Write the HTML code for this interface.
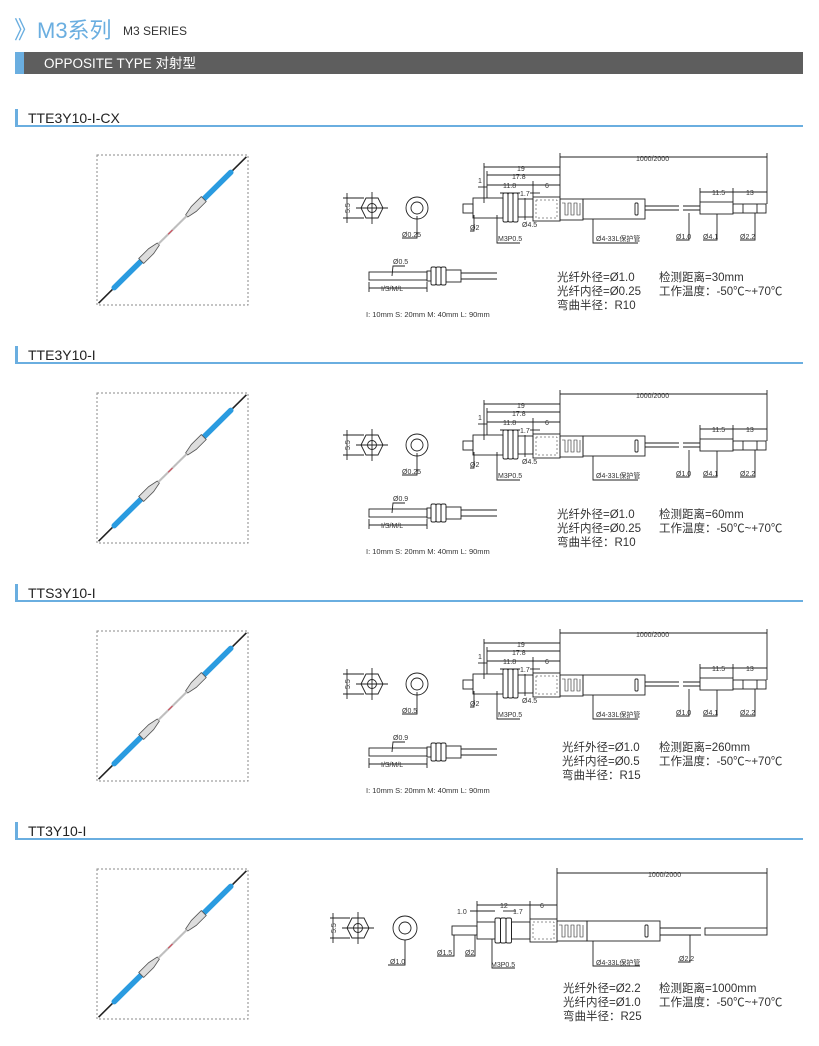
<!DOCTYPE html>
<html><head><meta charset="utf-8"><style>
html,body{margin:0;padding:0;background:#fff}
svg{display:block}
text{font-family:"Liberation Sans","Noto Sans CJK SC",sans-serif}
.d{font-size:7px;fill:#333}
.s{font-size:11.5px;fill:#333}
</style></head><body>
<svg width="819" height="1046" viewBox="0 0 819 1046" xmlns="http://www.w3.org/2000/svg">
<defs>
<g id="photo">
 <line x1="-104" y1="0" x2="104" y2="0" stroke="#222" stroke-width="1.6"/>
 <line x1="-82" y1="0" x2="-42" y2="0" stroke="#2a9be0" stroke-width="5.5" stroke-linecap="round"/>
 <line x1="42" y1="0" x2="82" y2="0" stroke="#2a9be0" stroke-width="5.5" stroke-linecap="round"/>
 <polygon points="-44,-3.5 -30,-3.5 -20,-1.5 -20,1.5 -30,3.5 -44,3.5" fill="#ddd" stroke="#555" stroke-width="0.8"/>
 <polygon points="44,-3.5 30,-3.5 20,-1.5 20,1.5 30,3.5 44,3.5" fill="#ddd" stroke="#555" stroke-width="0.8"/>
 <line x1="-20" y1="0" x2="20" y2="0" stroke="#ccc" stroke-width="1.4"/>
 <line x1="-6" y1="0" x2="0" y2="0" stroke="#e05060" stroke-width="1"/>
</g>
<g id="drw" fill="none" stroke="#222" stroke-width="0.9">
 <polygon points="361,208 366,198 378,198 383,208 378,218 366,218"/>
 <circle cx="372" cy="208" r="4.5"/>
 <line x1="372" y1="192" x2="372" y2="224"/><line x1="356" y1="208" x2="388" y2="208"/>
 <line x1="343" y1="198" x2="364" y2="198"/><line x1="343" y1="218" x2="364" y2="218"/>
 <line x1="347" y1="193" x2="347" y2="223"/>
 <circle cx="417" cy="208" r="11"/><circle cx="417" cy="208" r="6"/>
 <polyline points="417,216 417,238 402,238"/>
 <rect x="463" y="204" width="10" height="9"/>
 <rect x="473" y="198" width="30" height="20"/>
 <rect x="503" y="193" width="5" height="29" rx="1.5"/><rect x="508" y="193" width="5" height="29" rx="1.5"/><rect x="513" y="193" width="5" height="29" rx="1.5"/>
 <rect x="518" y="199" width="15" height="18"/>
 <rect x="533" y="197" width="27" height="24"/>
 <rect x="536" y="200" width="21" height="18" stroke-dasharray="2,2" stroke-width="0.5"/>
 <rect x="560" y="199" width="23" height="21"/>
 <path d="M562,203 h3 v12 h3 v-12 h3 v12 h3 v-12 h3 v12 h3 v-12" stroke-width="0.6"/>
 <rect x="583" y="199" width="62" height="20"/>
 <rect x="635" y="203" width="3" height="12" rx="1"/>
 <line x1="645" y1="206" x2="679" y2="206"/><line x1="645" y1="210" x2="679" y2="210"/>
 <line x1="683" y1="206" x2="700" y2="206"/><line x1="683" y1="210" x2="700" y2="210"/>
 <rect x="700" y="202" width="33" height="12"/>
 <rect x="733" y="204" width="33" height="9"/><line x1="743" y1="204" x2="743" y2="213"/><line x1="757" y1="204" x2="757" y2="213"/>
 <line x1="560" y1="153" x2="560" y2="197"/><line x1="767" y1="153" x2="767" y2="204"/>
 <line x1="560" y1="157" x2="767" y2="157"/>
 <line x1="484" y1="163" x2="484" y2="203"/><line x1="487" y1="171" x2="487" y2="198"/>
 <line x1="484" y1="167" x2="560" y2="167"/><line x1="487" y1="175" x2="560" y2="175"/>
 <line x1="487" y1="185" x2="560" y2="185"/><line x1="533" y1="181" x2="533" y2="197"/>
 <line x1="478" y1="187" x2="487" y2="187"/>
 <line x1="500" y1="193" x2="520" y2="193"/><line x1="530" y1="193" x2="540" y2="193"/>
 <line x1="700" y1="188" x2="700" y2="202"/><line x1="733" y1="188" x2="733" y2="202"/>
 <line x1="700" y1="192" x2="767" y2="192"/>
 <line x1="525" y1="198" x2="525" y2="220"/>
 <polyline points="474,215 474,231 470,231"/><polyline points="497,215 497,243 520,243"/>
 <polyline points="593,219 593,243 638,243"/><polyline points="689,213 689,240 676,240"/>
 <polyline points="717,214 717,240 703,240"/><polyline points="755,213 755,240 740,240"/>
 <rect x="369" y="272" width="58" height="8"/>
 <rect x="427" y="271" width="4" height="10"/>
 <rect x="431" y="267" width="5" height="18" rx="1.5"/><rect x="436" y="267" width="5" height="18" rx="1.5"/><rect x="441" y="267" width="5" height="18" rx="1.5"/>
 <rect x="446" y="270" width="15" height="12"/>
 <line x1="461" y1="273" x2="497" y2="273"/><line x1="461" y1="279" x2="497" y2="279"/>
 <line x1="369" y1="282" x2="369" y2="292"/><line x1="427" y1="282" x2="427" y2="292"/>
 <line x1="369" y1="288" x2="427" y2="288"/>
 <polyline points="392,276 393,266 405,266"/>
</g>
</defs>

<text x="14" y="38" font-size="24" fill="#6aaee0">》</text>
<text x="37" y="38" font-size="22" fill="#6aaee0">M3系列</text>
<text x="123" y="35" font-size="12" fill="#333">M3 SERIES</text>
<rect x="15" y="52" width="788" height="22" fill="#5e5e5e"/>
<rect x="15" y="52" width="9" height="22" fill="#6aaee0"/>
<text x="44" y="68" font-size="13.5" fill="#fff">OPPOSITE TYPE 对射型</text>

<g>
<rect x="15" y="109" width="3" height="18" fill="#6aaee0"/><rect x="15" y="125" width="788" height="2" fill="#6aaee0"/>
<text x="28" y="123" font-size="14" fill="#222">TTE3Y10-I-CX</text>
<rect x="15" y="346" width="3" height="18" fill="#6aaee0"/><rect x="15" y="362" width="788" height="2" fill="#6aaee0"/>
<text x="28" y="360" font-size="14" fill="#222">TTE3Y10-I</text>
<rect x="15" y="584" width="3" height="18" fill="#6aaee0"/><rect x="15" y="600" width="788" height="2" fill="#6aaee0"/>
<text x="28" y="598" font-size="14" fill="#222">TTS3Y10-I</text>
<rect x="15" y="822" width="3" height="18" fill="#6aaee0"/><rect x="15" y="838" width="788" height="2" fill="#6aaee0"/>
<text x="28" y="836" font-size="14" fill="#222">TT3Y10-I</text>
</g>

<g fill="none" stroke="#888" stroke-width="1" stroke-dasharray="2,2">
<rect x="97" y="155" width="151" height="150"/>
<rect x="97" y="393" width="151" height="150"/>
<rect x="97" y="631" width="151" height="150"/>
<rect x="97" y="869" width="151" height="150"/>
</g>
<use href="#photo" transform="translate(172.5,230) rotate(-44.7)"/>
<use href="#photo" transform="translate(172.5,468) rotate(-44.7)"/>
<use href="#photo" transform="translate(172.5,706) rotate(-44.7)"/>
<use href="#photo" transform="translate(172.5,944) rotate(-44.7)"/>

<use href="#drw"/>
<use href="#drw" transform="translate(0,237)"/>
<use href="#drw" transform="translate(0,476)"/>

<g class="d">
<text x="636" y="161">1000/2000</text><text x="517" y="171">19</text><text x="512" y="179">17.8</text>
<text x="503" y="188">11.8</text><text x="545" y="188">6</text><text x="478" y="183">1</text><text x="520" y="196">1.7</text>
<text x="712" y="195">11.5</text><text x="746" y="195">13</text>
<text x="340" y="213" transform="rotate(-90 345 208)">5.5</text>
<text x="402" y="237">Ø0.25</text><text x="470" y="230">Ø2</text><text x="522" y="227">Ø4.5</text>
<text x="498" y="241">M3P0.5</text><text x="596" y="241">Ø4-33L保护管</text>
<text x="676" y="239">Ø1.0</text><text x="703" y="239">Ø4.1</text><text x="740" y="239">Ø2.2</text>
<text x="393" y="264">Ø0.5</text><text x="381" y="291">I/S/M/L</text>
</g>
<text x="366" y="317" font-size="7.5" fill="#333" font-family="Liberation Serif,serif">I: 10mm S: 20mm M: 40mm L: 90mm</text>
<g class="s">
<text x="557" y="281">光纤外径=Ø1.0</text><text x="557" y="295">光纤内径=Ø0.25</text><text x="557" y="309">弯曲半径：R10</text>
<text x="659" y="281">检测距离=30mm</text><text x="659" y="295">工作温度：-50℃~+70℃</text>
</g>

<g class="d" transform="translate(0,237)">
<text x="636" y="161">1000/2000</text><text x="517" y="171">19</text><text x="512" y="179">17.8</text>
<text x="503" y="188">11.8</text><text x="545" y="188">6</text><text x="478" y="183">1</text><text x="520" y="196">1.7</text>
<text x="712" y="195">11.5</text><text x="746" y="195">13</text>
<text x="340" y="213" transform="rotate(-90 345 208)">5.5</text>
<text x="402" y="237">Ø0.25</text><text x="470" y="230">Ø2</text><text x="522" y="227">Ø4.5</text>
<text x="498" y="241">M3P0.5</text><text x="596" y="241">Ø4-33L保护管</text>
<text x="676" y="239">Ø1.0</text><text x="703" y="239">Ø4.1</text><text x="740" y="239">Ø2.2</text>
<text x="393" y="264">Ø0.9</text><text x="381" y="291">I/S/M/L</text>
</g>
<text x="366" y="554" font-size="7.5" fill="#333" font-family="Liberation Serif,serif">I: 10mm S: 20mm M: 40mm L: 90mm</text>
<g class="s">
<text x="557" y="518">光纤外径=Ø1.0</text><text x="557" y="532">光纤内径=Ø0.25</text><text x="557" y="546">弯曲半径：R10</text>
<text x="659" y="518">检测距离=60mm</text><text x="659" y="532">工作温度：-50℃~+70℃</text>
</g>

<g class="d" transform="translate(0,476)">
<text x="636" y="161">1000/2000</text><text x="517" y="171">19</text><text x="512" y="179">17.8</text>
<text x="503" y="188">11.8</text><text x="545" y="188">6</text><text x="478" y="183">1</text><text x="520" y="196">1.7</text>
<text x="712" y="195">11.5</text><text x="746" y="195">13</text>
<text x="340" y="213" transform="rotate(-90 345 208)">5.5</text>
<text x="402" y="237">Ø0.5</text><text x="470" y="230">Ø2</text><text x="522" y="227">Ø4.5</text>
<text x="498" y="241">M3P0.5</text><text x="596" y="241">Ø4-33L保护管</text>
<text x="676" y="239">Ø1.0</text><text x="703" y="239">Ø4.1</text><text x="740" y="239">Ø2.2</text>
<text x="393" y="264">Ø0.9</text><text x="381" y="291">I/S/M/L</text>
</g>
<text x="366" y="793" font-size="7.5" fill="#333" font-family="Liberation Serif,serif">I: 10mm S: 20mm M: 40mm L: 90mm</text>
<g class="s">
<text x="562" y="751">光纤外径=Ø1.0</text><text x="562" y="765">光纤内径=Ø0.5</text><text x="562" y="779">弯曲半径：R15</text>
<text x="659" y="751">检测距离=260mm</text><text x="659" y="765">工作温度：-50℃~+70℃</text>
</g>

<g fill="none" stroke="#222" stroke-width="0.9">
 <polygon points="347,928 352,918 364,918 369,928 364,938 352,938"/>
 <circle cx="358" cy="928" r="4.5"/>
 <line x1="358" y1="912" x2="358" y2="944"/><line x1="342" y1="928" x2="374" y2="928"/>
 <line x1="330" y1="918" x2="350" y2="918"/><line x1="330" y1="938" x2="350" y2="938"/>
 <line x1="333" y1="913" x2="333" y2="943"/>
 <circle cx="405" cy="928" r="12"/><circle cx="405" cy="928" r="6"/>
 <polyline points="405,940 405,965 388,965"/>
 <rect x="452" y="926" width="25" height="9"/>
 <rect x="477" y="922" width="18" height="17"/>
 <rect x="495" y="918" width="5.5" height="25" rx="1.5"/><rect x="500.5" y="918" width="5.5" height="25" rx="1.5"/><rect x="506" y="918" width="5.5" height="25" rx="1.5"/>
 <rect x="511.5" y="922" width="18.5" height="17"/>
 <rect x="530" y="919" width="27" height="23"/>
 <rect x="533" y="922" width="21" height="17" stroke-dasharray="2,2" stroke-width="0.5"/>
 <rect x="557" y="921" width="30" height="20"/>
 <path d="M559,925 h3 v12 h3 v-12 h3 v12 h3 v-12 h3 v12 h3 v-12 h3 v12 h3 v-12" stroke-width="0.6"/>
 <rect x="587" y="921" width="73" height="20"/>
 <rect x="645" y="925" width="3" height="12" rx="1"/>
 <line x1="660" y1="928" x2="701" y2="928"/><line x1="660" y1="935" x2="701" y2="935"/>
 <rect x="705" y="928" width="62" height="7"/>
 <line x1="557" y1="868" x2="557" y2="919"/><line x1="767" y1="868" x2="767" y2="928"/>
 <line x1="557" y1="873" x2="767" y2="873"/>
 <line x1="477" y1="901" x2="477" y2="922"/><line x1="530" y1="901" x2="530" y2="919"/>
 <line x1="477" y1="905" x2="557" y2="905"/>
 <line x1="470" y1="911" x2="495" y2="911"/><line x1="503" y1="911" x2="516" y2="911"/>
 <polyline points="454,935 454,956 437,956"/><polyline points="475,935 475,956 465,956"/>
 <polyline points="492,939 492,968 515,968"/><polyline points="593,941 593,966 640,966"/>
 <polyline points="690,935 690,962 678,962"/>
</g>
<g class="d">
<text x="648" y="877">1000/2000</text><text x="500" y="908">12</text><text x="540" y="908">6</text>
<text x="457" y="914">1.0</text><text x="513" y="914">1.7</text>
<text x="326" y="933" transform="rotate(-90 331 928)">5.5</text>
<text x="390" y="964">Ø1.0</text><text x="437" y="955">Ø1.5</text><text x="465" y="955">Ø2</text>
<text x="491" y="967">M3P0.5</text><text x="596" y="965">Ø4-33L保护管</text><text x="679" y="961">Ø2.2</text>
</g>
<g class="s">
<text x="563" y="992">光纤外径=Ø2.2</text><text x="563" y="1006">光纤内径=Ø1.0</text><text x="563" y="1020">弯曲半径：R25</text>
<text x="659" y="992">检测距离=1000mm</text><text x="659" y="1006">工作温度：-50℃~+70℃</text>
</g>
</svg>
</body></html>
